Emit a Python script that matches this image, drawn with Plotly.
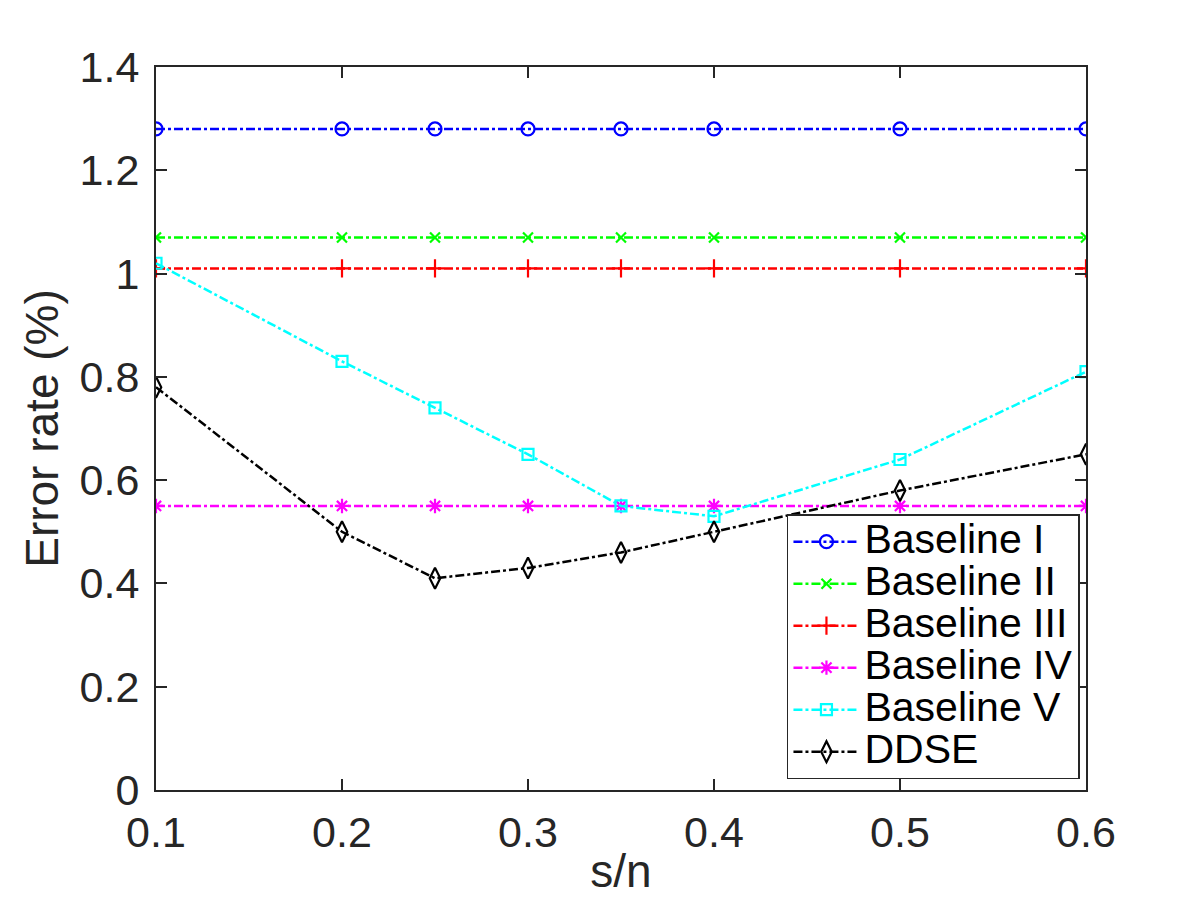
import plotly.graph_objects as go

# s/n ratios on the x axis
sn = [0.1, 0.2, 0.25, 0.3, 0.35, 0.4, 0.5, 0.6]

baseline_1 = [1.28, 1.28, 1.28, 1.28, 1.28, 1.28, 1.28, 1.28]
baseline_2 = [1.07, 1.07, 1.07, 1.07, 1.07, 1.07, 1.07, 1.07]
baseline_3 = [1.01, 1.01, 1.01, 1.01, 1.01, 1.01, 1.01, 1.01]
baseline_4 = [0.55, 0.55, 0.55, 0.55, 0.55, 0.55, 0.55, 0.55]
baseline_5 = [1.02, 0.83, 0.74, 0.65, 0.55, 0.53, 0.64, 0.81]
ddse = [0.78, 0.50, 0.41, 0.43, 0.46, 0.50, 0.58, 0.65]

x_ticks = [0.1, 0.2, 0.3, 0.4, 0.5, 0.6]
y_ticks = [0, 0.2, 0.4, 0.6, 0.8, 1.0, 1.2, 1.4]
y_labels = ["0", "0.2", "0.4", "0.6", "0.8", "1", "1.2", "1.4"]

series = [
    ("Baseline I", baseline_1, "#0000ff", "circle-open", 13),
    ("Baseline II", baseline_2, "#00ff00", "x-thin-open", 10),
    ("Baseline III", baseline_3, "#ff0000", "cross-thin-open", 13),
    ("Baseline IV", baseline_4, "#ff00ff", "asterisk-open", 12),
    ("Baseline V", baseline_5, "#00ffff", "square-open", 11),
    ("DDSE", ddse, "#000000", "diamond-tall-open", 15),
]

fig = go.Figure()
for name, vals, col, sym, sz in series:
    # bigger text than the legend row height, MATLAB legends are tight
    label = "<span style='font-size:41px'>" + name + "</span>"
    fig.add_trace(go.Scatter(
        x=sn, y=vals, name=label, mode="lines+markers",
        line=dict(color=col, width=2.5, dash="dashdot"),
        marker=dict(symbol=sym, size=sz, color=col, line=dict(color=col, width=2.2)),
    ))

axis_style = dict(
    showline=True, linecolor="#262626", linewidth=2, mirror="ticks",
    ticks="inside", ticklen=11, tickwidth=1.5, tickcolor="#262626",
    showgrid=False, zeroline=False,
    tickfont=dict(size=43, color="#262626"),
)

fig.update_layout(
    width=1200, height=900,
    paper_bgcolor="white", plot_bgcolor="white",
    font=dict(family="Liberation Sans, Arial, sans-serif", color="#262626"),
    margin=dict(l=148, r=122, t=59, b=118),
    xaxis=dict(range=[0.1, 0.6], tickvals=x_ticks, ticklabelstandoff=3,
               title=dict(text="s/n", font=dict(size=46), standoff=0), **axis_style),
    yaxis=dict(range=[0, 1.4], tickvals=y_ticks, ticktext=y_labels, ticklabelstandoff=6,
               title=dict(text="Error rate (%)", font=dict(size=46), standoff=7), **axis_style),
    legend=dict(
        x=0.9935, y=0.015, xanchor="right", yanchor="bottom",
        bgcolor="white", bordercolor="#262626", borderwidth=1.5,
        font=dict(size=30, color="black"), tracegroupgap=0, itemwidth=66,
    ),
    showlegend=True,
)

fig.write_html("out.html")
